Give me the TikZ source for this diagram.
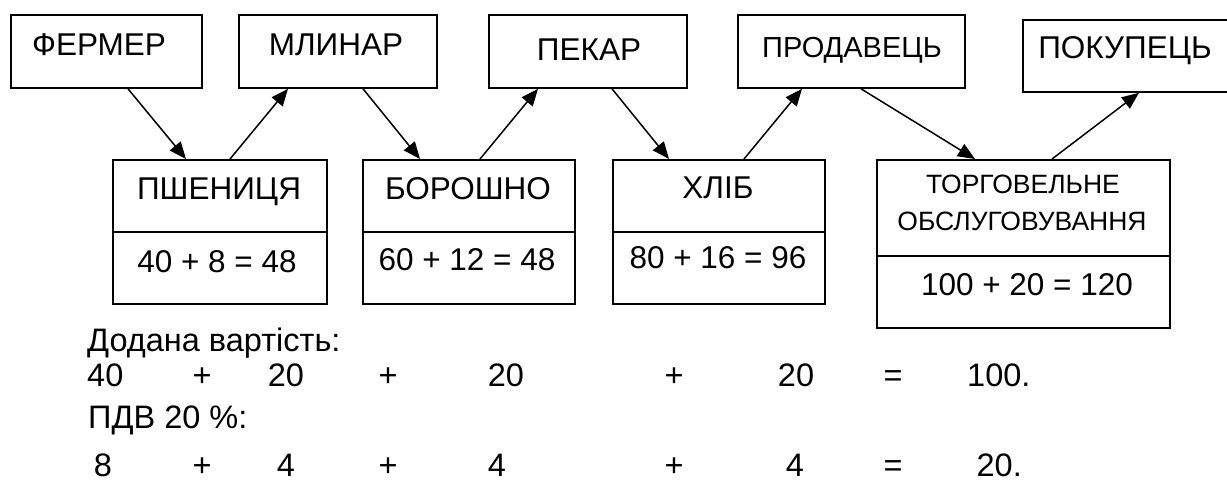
\documentclass[tikz,border=0pt]{standalone}
\usepackage{fontspec}
\setmainfont{Liberation Sans}
\usetikzlibrary{arrows.meta}
\tikzset{
  box/.style={draw, line width=1.8pt, inner sep=0pt, anchor=north west},
  lbl/.style={inner sep=0pt, anchor=base, font=\fontsize{31.5}{36}\selectfont},
  low/.style={lbl, font=\fontsize{32.5}{38}\selectfont},
  arr/.style={line width=1.5pt, -{Triangle[length=17pt,width=14pt]}},
}
\begin{document}
\begin{tikzpicture}[x=1pt,y=-1pt]
\clip (0,0) rectangle (1227,485);
\fill[white] (0,0) rectangle (1227,485);
% top boxes
\node[box, minimum width=191pt, minimum height=73pt] (farmer) at (10,14) {};
\node[box, minimum width=198pt, minimum height=73pt] (miller) at (238,14) {};
\node[box, minimum width=198pt, minimum height=73pt] (baker) at (488,14) {};
\node[box, minimum width=227pt, minimum height=73pt] (seller) at (737,14) {};
\node[box, minimum width=230pt, minimum height=72pt] (buyer) at (1022,19) {};
% bottom boxes
\node[box, minimum width=214pt, minimum height=72pt] (wheatT) at (112,159) {};
\node[box, minimum width=214pt, minimum height=72pt] (wheatB) at (112,231) {};
\node[box, minimum width=212pt, minimum height=72pt] (flourT) at (362,159) {};
\node[box, minimum width=212pt, minimum height=72pt] (flourB) at (362,231) {};
\node[box, minimum width=212pt, minimum height=72pt] (breadT) at (612,159) {};
\node[box, minimum width=212pt, minimum height=72pt] (breadB) at (612,231) {};
\node[box, minimum width=293pt, minimum height=96pt] (tradeT) at (876,159) {};
\node[box, minimum width=293pt, minimum height=72pt] (tradeB) at (876,255) {};
% texts in boxes
\node[lbl] (tfarmer) at (99,55) {ФЕРМЕР};
\node[lbl] (tmiller) at (336,55) {МЛИНАР};
\node[lbl] (tbaker) at (589,60) {ПЕКАР};
\node[lbl, font=\fontsize{29}{34}\selectfont] (tseller) at (852,57) {ПРОДАВЕЦЬ};
\node[lbl] (tbuyer) at (1125,58) {ПОКУПЕЦЬ};
\node[lbl] (twheat) at (219,199) {ПШЕНИЦЯ};
\node[lbl] (vwheat) at (217,272) {40 + 8 = 48};
\node[lbl] (tflour) at (468,199) {БОРОШНО};
\node[lbl] (vflour) at (467,270) {60 + 12 = 48};
\node[lbl] (tbread) at (718,198) {ХЛІБ};
\node[lbl] (vbread) at (718,268) {80 + 16 = 96};
\node[lbl, font=\fontsize{26.5}{30}\selectfont] (ttrade1) at (1023,193) {ТОРГОВЕЛЬНЕ};
\node[lbl, font=\fontsize{26.5}{30}\selectfont] (ttrade2) at (1022,230) {ОБСЛУГОВУВАННЯ};
\node[lbl] (vtrade) at (1027,295) {100 + 20 = 120};
% arrows
\draw[arr] ([xshift=118pt]farmer.south west) -- ([xshift=74pt]wheatT.north west);
\draw[arr] ([xshift=118pt]wheatT.north west) -- ([xshift=50pt]miller.south west);
\draw[arr] ([xshift=125pt]miller.south west) -- ([xshift=58pt]flourT.north west);
\draw[arr] ([xshift=118pt]flourT.north west) -- ([xshift=50pt]baker.south west);
\draw[arr] ([xshift=124pt]baker.south west) -- ([xshift=57pt]breadT.north west);
\draw[arr] ([xshift=132pt]breadT.north west) -- ([xshift=65pt]seller.south west);
\draw[arr] ([xshift=124pt]seller.south west) -- ([xshift=99pt]tradeT.north west);
\draw[arr] ([xshift=176pt]tradeT.north west) -- ([xshift=117pt]buyer.south west);
% lower text
\node[low, anchor=base west] (h1) at (87,351) {Додана вартість:};
\node[low, anchor=base west] (a1) at (87,386) {40};
\node[low] (a2) at (202,386) {+};
\node[low] (a3) at (286,386) {20};
\node[low] (a4) at (388,386) {+};
\node[low] (a5) at (506,386) {20};
\node[low] (a6) at (674,386) {+};
\node[low] (a7) at (796,386) {20};
\node[low] (a8) at (893,386) {=};
\node[low, anchor=base west] (a9) at (967,386) {100.};
\node[low, anchor=base west] (h2) at (88,428) {ПДВ 20 \%:};
\node[low] (b1) at (103,476) {8};
\node[low] (b2) at (202,476) {+};
\node[low] (b3) at (286,476) {4};
\node[low] (b4) at (388,476) {+};
\node[low] (b5) at (497,476) {4};
\node[low] (b6) at (674,476) {+};
\node[low] (b7) at (795,476) {4};
\node[low] (b8) at (893,476) {=};
\node[low, anchor=base east] (b9) at (1022,476) {20.};
\end{tikzpicture}
\end{document}
